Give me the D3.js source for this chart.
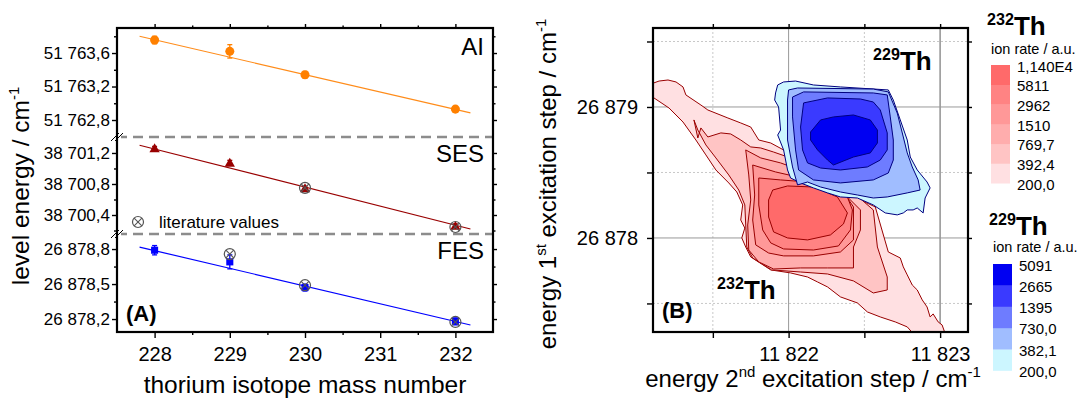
<!DOCTYPE html>
<html>
<head>
<meta charset="utf-8">
<script src="https://cdn.jsdelivr.net/npm/d3@7"></script>
<style>
  body { margin: 0; background: #fff; }
  svg { font-family: "Liberation Sans", Arial, Helvetica, sans-serif; }
</style>
</head>
<body>
<svg id="chart" width="1080" height="404"></svg>
<script>
// ---------- Panel A: level energies vs. thorium isotope mass ----------
const massNumbers = [228, 229, 230, 232];
const aiEnergy  = [51763.755, 51763.62, 51763.34, 51762.93];
const aiError   = [0.045, 0.08, 0.04, 0.03];
const sesEnergy = [38701.26, 38701.075, 38700.745, 38700.26];
const sesError  = [0.025, 0.03, 0.025, 0.025];
const fesEnergy = [26878.79, 26878.69, 26878.47, 26878.18];
const fesError  = [0.04, 0.06, 0.03, 0.03];

// literature values: [mass number, energy]
const litSES = [[230, 38700.75], [232, 38700.245]];
const litFES = [[229, 26878.757], [230, 26878.49], [232, 26878.175]];

// linear fits (end points)
const fitMass = [227.8, 232.2];
const aiFit   = [51763.80, 51762.885];
const sesFit  = [38701.30, 38700.22];
const fesFit  = [26878.817, 26878.149];

const massTicks = [228, 229, 230, 231, 232];
const massMinor = [228.5, 229.5, 230.5, 231.5];
const aiTicks  = [51762.8, 51763.2, 51763.6];
const aiMinor  = [51763.0, 51763.4, 51763.8];
const sesTicks = [38700.4, 38700.8, 38701.2];
const sesMinor = [38700.2, 38700.6, 38701.0];
const fesTicks = [26878.2, 26878.5, 26878.8];
const fesMinor = [26878.35, 26878.65];

// ---------- Panel B: 2D excitation scans ----------
// energies are given as offsets (cm^-1) from these reference values
const E2_REF = 11822, E1_REF = 26878;
const e2Ticks = [11822, 11823];
const e2Minor = [11821.5, 11822.5];
const e1Ticks = [26878, 26879];
const e1Minor = [26877.5, 26878.5, 26879.5];

const th232Levels = [200, 392.4, 769.7, 1510, 2962, 5811, 11400];
const th232Labels = ["200,0", "392,4", "769,7", "1510", "2962", "5811", "1,140E4"];
const th232Colors = ["#ffe0e2", "#ffc4c4", "#ffadad", "#ff9898", "#ff8383", "#ff6a6a"];

const th229Levels = [200, 382.1, 730.0, 1395, 2665, 5091];
const th229Labels = ["200,0", "382,1", "730,0", "1395", "2665", "5091"];
const th229Colors = ["#ccf6ff", "#a0bdff", "#6e7cff", "#3a3aff", "#0000f2"];

// 232Th iso-rate contours, lowest level first: [dE2, dE1]
const th232Contours = [
  [[-0.908,1.176],[-0.855,1.198],[-0.796,1.206],[-0.743,1.191],[-0.697,1.153],[-0.678,1.092],
   [-0.579,1.015],[-0.533,0.977],[-0.401,0.916],[-0.316,0.878],[-0.25,0.847],[-0.197,0.748],
   [-0.118,0.725],[-0.033,0.672],[0.079,0.519],[0.276,0.382],[0.474,0.290],[0.572,0.237],
   [0.658,-0.107],[0.737,-0.153],[0.757,-0.221],[0.783,-0.282],[0.816,-0.359],[0.849,-0.397],
   [0.882,-0.473],[0.914,-0.527],[0.934,-0.603],[0.954,-0.580],[0.987,-0.641],[1.013,-0.664],
   [1.039,-0.748],[0.836,-0.748],[0.783,-0.679],[0.704,-0.641],[0.605,-0.603],[0.520,-0.565],
   [0.454,-0.496],[0.342,-0.450],[0.257,-0.374],[0.191,-0.336],[0.125,-0.298],[0.013,-0.267],
   [-0.118,-0.244],[-0.25,-0.145],[-0.283,-0.069],[-0.309,0],[-0.289,0.076],[-0.316,0.137],
   [-0.303,0.252],[-0.342,0.351],[-0.395,0.420],[-0.480,0.519],[-0.546,0.634],[-0.612,0.748],
   [-0.697,0.885],[-0.789,0.992],[-0.908,1.084]],
  [[-0.625,0.901],[-0.599,0.763],[-0.579,0.840],[-0.533,0.771],[-0.447,0.802],[-0.382,0.794],
   [-0.316,0.748],[-0.25,0.695],[-0.184,0.687],[-0.099,0.656],[0.013,0.611],[0.211,0.504],
   [0.408,0.366],[0.559,0.214],[0.586,-0.069],[0.651,-0.298],[0.651,-0.397],[0.559,-0.420],
   [0.428,-0.328],[0.257,-0.275],[0.079,-0.260],[-0.112,-0.244],[-0.237,-0.153],[-0.276,-0.069],
   [-0.283,0.099],[-0.289,0.252],[-0.329,0.366],[-0.395,0.481],[-0.480,0.611],[-0.546,0.710],
   [-0.599,0.824]],
  [[-0.283,0.672],[-0.184,0.611],[-0.053,0.573],[0.112,0.504],[0.309,0.405],[0.474,0.214],
   [0.474,0.061],[0.428,-0.069],[0.428,-0.229],[0.257,-0.229],[0.079,-0.229],[-0.099,-0.237],
   [-0.197,-0.183],[-0.263,-0.092],[-0.270,0.099],[-0.25,0.290],[-0.263,0.481]],
  [[-0.237,0.557],[-0.086,0.504],[0.145,0.443],[0.375,0.328],[0.428,0.237],[0.428,-0.015],
   [0.342,-0.107],[0.164,-0.137],[-0.033,-0.137],[-0.132,-0.115],[-0.217,-0.053],[-0.237,0.137],
   [-0.224,0.328]],
  [[-0.197,0.458],[-0.053,0.443],[0.211,0.420],[0.375,0.351],[0.421,0.214],[0.408,0.061],
   [0.329,-0.061],[0.164,-0.092],[-0.033,-0.084],[-0.118,-0.038],[-0.171,0.061],[-0.197,0.252]],
  [[-0.132,0.290],[-0.105,0.366],[-0.007,0.397],[0.164,0.389],[0.322,0.313],[0.388,0.191],
   [0.362,0.107],[0.276,0.023],[0.125,-0.015],[-0.007,0],[-0.099,0.046],[-0.132,0.160]]
];

// 229Th iso-rate contours, lowest level first: [dE2, dE1]
const th229Contours = [
  [[-0.086,1.107],[-0.072,1.168],[-0.033,1.191],[0.046,1.198],[0.164,1.168],[0.342,1.153],
   [0.658,1.130],[0.691,1.053],[0.737,0.901],[0.783,0.748],[0.803,0.618],[0.849,0.519],
   [0.914,0.427],[0.934,0.382],[0.901,0.305],[0.888,0.191],[0.849,0.229],[0.822,0.214],
   [0.783,0.214],[0.757,0.191],[0.717,0.176],[0.638,0.191],[0.559,0.252],[0.454,0.305],
   [0.342,0.313],[0.257,0.344],[0.164,0.382],[0.079,0.420],[0.013,0.458],[-0.007,0.519],
   [-0.033,0.672],[-0.072,0.786],[-0.053,0.824],[-0.066,1.0],[-0.092,1.053]],
  [[-0.007,1.053],[0,1.130],[0.059,1.145],[0.559,1.137],[0.658,1.115],[0.717,0.954],
   [0.757,0.771],[0.783,0.649],[0.816,0.542],[0.855,0.443],[0.868,0.366],[0.783,0.344],
   [0.651,0.313],[0.559,0.305],[0.454,0.328],[0.342,0.351],[0.211,0.389],[0.125,0.427],
   [0.059,0.405],[0.026,0.542],[-0.007,0.748]],
  [[0.026,0.924],[0.026,1.076],[0.099,1.115],[0.559,1.107],[0.651,1.092],[0.671,0.924],
   [0.691,0.748],[0.691,0.595],[0.658,0.496],[0.559,0.443],[0.342,0.420],[0.164,0.443],
   [0.066,0.519],[0.046,0.672]],
  [[0.079,0.847],[0.099,1.031],[0.257,1.069],[0.474,1.061],[0.559,1.038],[0.605,0.977],
   [0.651,0.802],[0.651,0.672],[0.605,0.595],[0.520,0.542],[0.342,0.519],[0.211,0.534],
   [0.125,0.573],[0.092,0.672]],
  [[0.145,0.809],[0.211,0.901],[0.296,0.924],[0.428,0.939],[0.539,0.901],[0.586,0.824],
   [0.586,0.725],[0.539,0.649],[0.428,0.618],[0.296,0.557],[0.257,0.595],[0.191,0.672],
   [0.145,0.748]]
];

// ---------- drawing ----------
const svg = d3.select("#chart");
const locale = d3.formatLocale({decimal: ",", thousands: " ", grouping: [3], currency: ["", ""]});
const fmt1 = locale.format(",.1f");
const fmt0 = locale.format(",.0f");

function axis(gen, scale, values, size, format, fontSize, padding, transform) {
  const g = svg.append("g").attr("transform", transform)
    .call(gen(scale).tickValues(values).tickSize(size).tickSizeOuter(0)
      .tickPadding(padding).tickFormat(format || (() => "")));
  g.attr("font-family", null).attr("font-size", fontSize);
  g.select(".domain").remove();
  g.selectAll("line").attr("stroke", "#000").attr("stroke-width", 1.4);
  g.selectAll("text").attr("fill", "#000");
  return g;
}

// ===== Panel A =====
const A = {left: 117, right: 493, top: 28, bottom: 332, breaks: [137, 234]};
const xA = d3.scaleLinear().domain([227.5, 232.5]).range([A.left, A.right]);

const segments = [
  {name: "AI",  energy: aiEnergy,  err: aiError,  fit: aiFit,  domain: [51762.597, 51763.899],
   range: [A.breaks[0], A.top], ticks: aiTicks, minor: aiMinor, color: "#ff8000", line: "#ff8c1a",
   symbol: d3.symbolCircle, size: 64, lit: []},
  {name: "SES", energy: sesEnergy, err: sesError, fit: sesFit, domain: [38700.155, 38701.406],
   range: [A.breaks[1], A.breaks[0]], ticks: sesTicks, minor: sesMinor, color: "#990000", line: "#990000",
   symbol: d3.symbolTriangle, size: 46, lit: litSES},
  {name: "FES", energy: fesEnergy, err: fesError, fit: fesFit, domain: [26878.089, 26878.929],
   range: [A.bottom, A.breaks[1]], ticks: fesTicks, minor: fesMinor, color: "#0000ff", line: "#0000ff",
   symbol: d3.symbolSquare, size: 50, lit: litFES}
];

// axes
axis(d3.axisBottom, xA, massTicks, 6, d3.format("d"), 20, 9, `translate(0,${A.bottom})`);
axis(d3.axisBottom, xA, massMinor, 3, null, 20, 0, `translate(0,${A.bottom})`);
axis(d3.axisTop, xA, massTicks, 4, null, 20, 0, `translate(0,${A.top})`);
axis(d3.axisTop, xA, massMinor, 2.5, null, 20, 0, `translate(0,${A.top})`);

segments.forEach(s => {
  s.y = d3.scaleLinear().domain(s.domain).range(s.range);
  axis(d3.axisLeft, s.y, s.ticks, 5, fmt1, 17, 2, `translate(${A.left},0)`);
  axis(d3.axisLeft, s.y, s.minor, 3, null, 17, 0, `translate(${A.left},0)`);
  axis(d3.axisRight, s.y, s.ticks, 4, null, 17, 0, `translate(${A.right},0)`);
  axis(d3.axisRight, s.y, s.minor, 2.5, null, 17, 0, `translate(${A.right},0)`);
});

// axis breaks: dashed separators and slash marks
A.breaks.forEach(yb => {
  svg.append("line").attr("x1", A.left).attr("x2", A.right).attr("y1", yb).attr("y2", yb)
    .attr("stroke", "#8c8c8c").attr("stroke-width", 2.6).attr("stroke-dasharray", "10,6");
  svg.append("rect").attr("x", A.left - 4).attr("y", yb - 2).attr("width", 8).attr("height", 4).attr("fill", "#fff");
  [-2, 2].forEach(o => svg.append("line")
    .attr("x1", A.left - 4 + o).attr("y1", yb + 4).attr("x2", A.left + 4 + o).attr("y2", yb - 4)
    .attr("stroke", "#000").attr("stroke-width", 1));
});

// fits, error bars and markers
const litMark = (g, x, y) => {
  const r = 5.5, d = r * 0.7071;
  g.append("circle").attr("cx", x).attr("cy", y).attr("r", r)
    .attr("fill", "none").attr("stroke", "#555").attr("stroke-width", 1.2);
  g.append("line").attr("x1", x - d).attr("y1", y - d).attr("x2", x + d).attr("y2", y + d)
    .attr("stroke", "#555").attr("stroke-width", 1.1);
  g.append("line").attr("x1", x - d).attr("y1", y + d).attr("x2", x + d).attr("y2", y - d)
    .attr("stroke", "#555").attr("stroke-width", 1.1);
};

segments.forEach(s => {
  const g = svg.append("g");
  g.append("line")
    .attr("x1", xA(fitMass[0])).attr("y1", s.y(s.fit[0]))
    .attr("x2", xA(fitMass[1])).attr("y2", s.y(s.fit[1]))
    .attr("stroke", s.line).attr("stroke-width", 1.2);
  massNumbers.forEach((m, i) => {
    const x = xA(m), v = s.energy[i], e = s.err[i];
    g.append("line").attr("x1", x).attr("x2", x).attr("y1", s.y(v - e)).attr("y2", s.y(v + e))
      .attr("stroke", s.color).attr("stroke-width", 1.3);
    [v - e, v + e].forEach(c => g.append("line").attr("x1", x - 2.5).attr("x2", x + 2.5)
      .attr("y1", s.y(c)).attr("y2", s.y(c)).attr("stroke", s.color).attr("stroke-width", 1.3));
    g.append("path").attr("d", d3.symbol(s.symbol, s.size)())
      .attr("transform", `translate(${x},${s.y(v) + (s.symbol === d3.symbolTriangle ? 1 : 0)})`)
      .attr("fill", s.color);
  });
  s.lit.forEach(([m, v]) => litMark(g, xA(m), s.y(v)));
  svg.append("text").attr("x", 484).attr("text-anchor", "end")
    .attr("y", s.range[1] + (s.name === "AI" ? 27 : 25))
    .attr("font-size", 24).text(s.name);
});

// frame
svg.append("rect").attr("x", A.left).attr("y", A.top)
  .attr("width", A.right - A.left).attr("height", A.bottom - A.top)
  .attr("fill", "none").attr("stroke", "#000").attr("stroke-width", 2.2);

// legend entry for literature values
litMark(svg.append("g"), 138, 222);
svg.append("text").attr("x", 159).attr("y", 228).attr("font-size", 17).text("literature values");

svg.append("text").attr("x", 126).attr("y", 321).attr("font-size", 22).attr("font-weight", "bold").text("(A)");

svg.append("text").attr("x", 305).attr("y", 393).attr("text-anchor", "middle").attr("font-size", 24.5)
  .text("thorium isotope mass number");
const ytA = svg.append("text").attr("transform", "translate(29,186) rotate(-90)")
  .attr("text-anchor", "middle").attr("font-size", 24.5);
ytA.append("tspan").text("level energy / cm");
ytA.append("tspan").attr("font-size", 15).attr("dy", -10).text("-1");

// ===== Panel B =====
const B = {left: 653, right: 968, top: 28, bottom: 332};
const xB = d3.scaleLinear().domain([11821.105, 11823.184]).range([B.left, B.right]);
const yB = d3.scaleLinear().domain([26877.282, 26879.603]).range([B.bottom, B.top]);

svg.append("defs").append("clipPath").attr("id", "clipB")
  .append("rect").attr("x", B.left).attr("y", B.top)
  .attr("width", B.right - B.left).attr("height", B.bottom - B.top);

// grid
const grid = svg.append("g");
e2Minor.forEach(v => grid.append("line").attr("x1", xB(v)).attr("x2", xB(v)).attr("y1", B.top).attr("y2", B.bottom)
  .attr("stroke", "#c8c8c8").attr("stroke-dasharray", "2,2"));
e1Minor.forEach(v => grid.append("line").attr("y1", yB(v)).attr("y2", yB(v)).attr("x1", B.left).attr("x2", B.right)
  .attr("stroke", "#c8c8c8").attr("stroke-dasharray", "2,2"));
e2Ticks.forEach(v => grid.append("line").attr("x1", xB(v)).attr("x2", xB(v)).attr("y1", B.top).attr("y2", B.bottom)
  .attr("stroke", "#999").attr("stroke-width", v === 11823 ? 1.6 : 1));
e1Ticks.forEach(v => grid.append("line").attr("y1", yB(v)).attr("y2", yB(v)).attr("x1", B.left).attr("x2", B.right)
  .attr("stroke", "#999"));

// contour bands
const contourLine = d3.line()
  .x(d => xB(E2_REF + d[0])).y(d => yB(E1_REF + d[1]))
  .curve(d3.curveLinearClosed);
const cg = svg.append("g").attr("clip-path", "url(#clipB)");
th232Contours.forEach((c, i) => cg.append("path").attr("d", contourLine(c))
  .attr("fill", th232Colors[i]).attr("stroke", "#990000").attr("stroke-width", 1).attr("stroke-linejoin", "round"));
th229Contours.forEach((c, i) => cg.append("path").attr("d", contourLine(c))
  .attr("fill", th229Colors[i]).attr("stroke", "#000080").attr("stroke-width", 1).attr("stroke-linejoin", "round"));

// axes
axis(d3.axisBottom, xB, e2Ticks, 6, fmt0, 20, 9, `translate(0,${B.bottom})`);
axis(d3.axisBottom, xB, e2Minor, 6, null, 20, 0, `translate(0,${B.bottom})`);
axis(d3.axisTop, xB, e2Ticks.concat(e2Minor), 4, null, 20, 0, `translate(0,${B.top})`);
axis(d3.axisLeft, yB, e1Ticks, 6, fmt0, 20, 9, `translate(${B.left},0)`);
axis(d3.axisLeft, yB, e1Minor, 6, null, 20, 0, `translate(${B.left},0)`);
axis(d3.axisRight, yB, e1Ticks.concat(e1Minor), 4, null, 20, 0, `translate(${B.right},0)`);

svg.append("rect").attr("x", B.left).attr("y", B.top)
  .attr("width", B.right - B.left).attr("height", B.bottom - B.top)
  .attr("fill", "none").attr("stroke", "#000").attr("stroke-width", 2.2);

// labels inside panel B
function isotope(x, y, mass, big) {
  const t = svg.append("text").attr("x", x).attr("y", y).attr("font-weight", "bold");
  t.append("tspan").attr("font-size", big * 0.62).attr("dy", -big * 0.4).text(mass);
  t.append("tspan").attr("font-size", big).attr("dy", big * 0.4).text("Th");
}
isotope(873, 70, "229", 26);
isotope(717, 299, "232", 26);
svg.append("text").attr("x", 662).attr("y", 318).attr("font-size", 22).attr("font-weight", "bold").text("(B)");

svg.append("text").attr("x", 813).attr("y", 387).attr("text-anchor", "middle").attr("font-size", 24)
  .call(t => {
    t.append("tspan").text("energy 2");
    t.append("tspan").attr("font-size", 15).attr("dy", -10).text("nd");
    t.append("tspan").attr("dy", 10).text(" excitation step / cm");
    t.append("tspan").attr("font-size", 15).attr("dy", -10).text("-1");
  });
svg.append("text").attr("transform", "translate(556,184) rotate(-90)").attr("text-anchor", "middle").attr("font-size", 24)
  .call(t => {
    t.append("tspan").text("energy 1");
    t.append("tspan").attr("font-size", 15).attr("dy", -10).text("st");
    t.append("tspan").attr("dy", 10).text(" excitation step / cm");
    t.append("tspan").attr("font-size", 15).attr("dy", -10).text("-1");
  });

// colour legends
function legend(x, titleY, mass, levels, labels, colors, swTop, swH, subGap) {
  isotope(x - 4, titleY, mass, 26);
  svg.append("text").attr("x", x).attr("y", titleY + subGap).attr("font-size", 14.5).text("ion rate / a.u.");
  const n = colors.length;
  colors.forEach((c, i) => svg.append("rect").attr("x", x).attr("y", swTop + (n - 1 - i) * swH)
    .attr("width", 19).attr("height", swH + 0.3).attr("fill", c));
  levels.forEach((lv, i) => svg.append("text").attr("x", x + 26).attr("y", swTop + (n - i) * swH + 6.5)
    .attr("font-size", 15).text(labels[i]));
}
legend(991, 35, "232", th232Levels, th232Labels, th232Colors, 65, 19.7, 19);
legend(993, 235, "229", th229Levels, th229Labels, th229Colors, 264, 21.3, 17);
</script>
</body>
</html>
